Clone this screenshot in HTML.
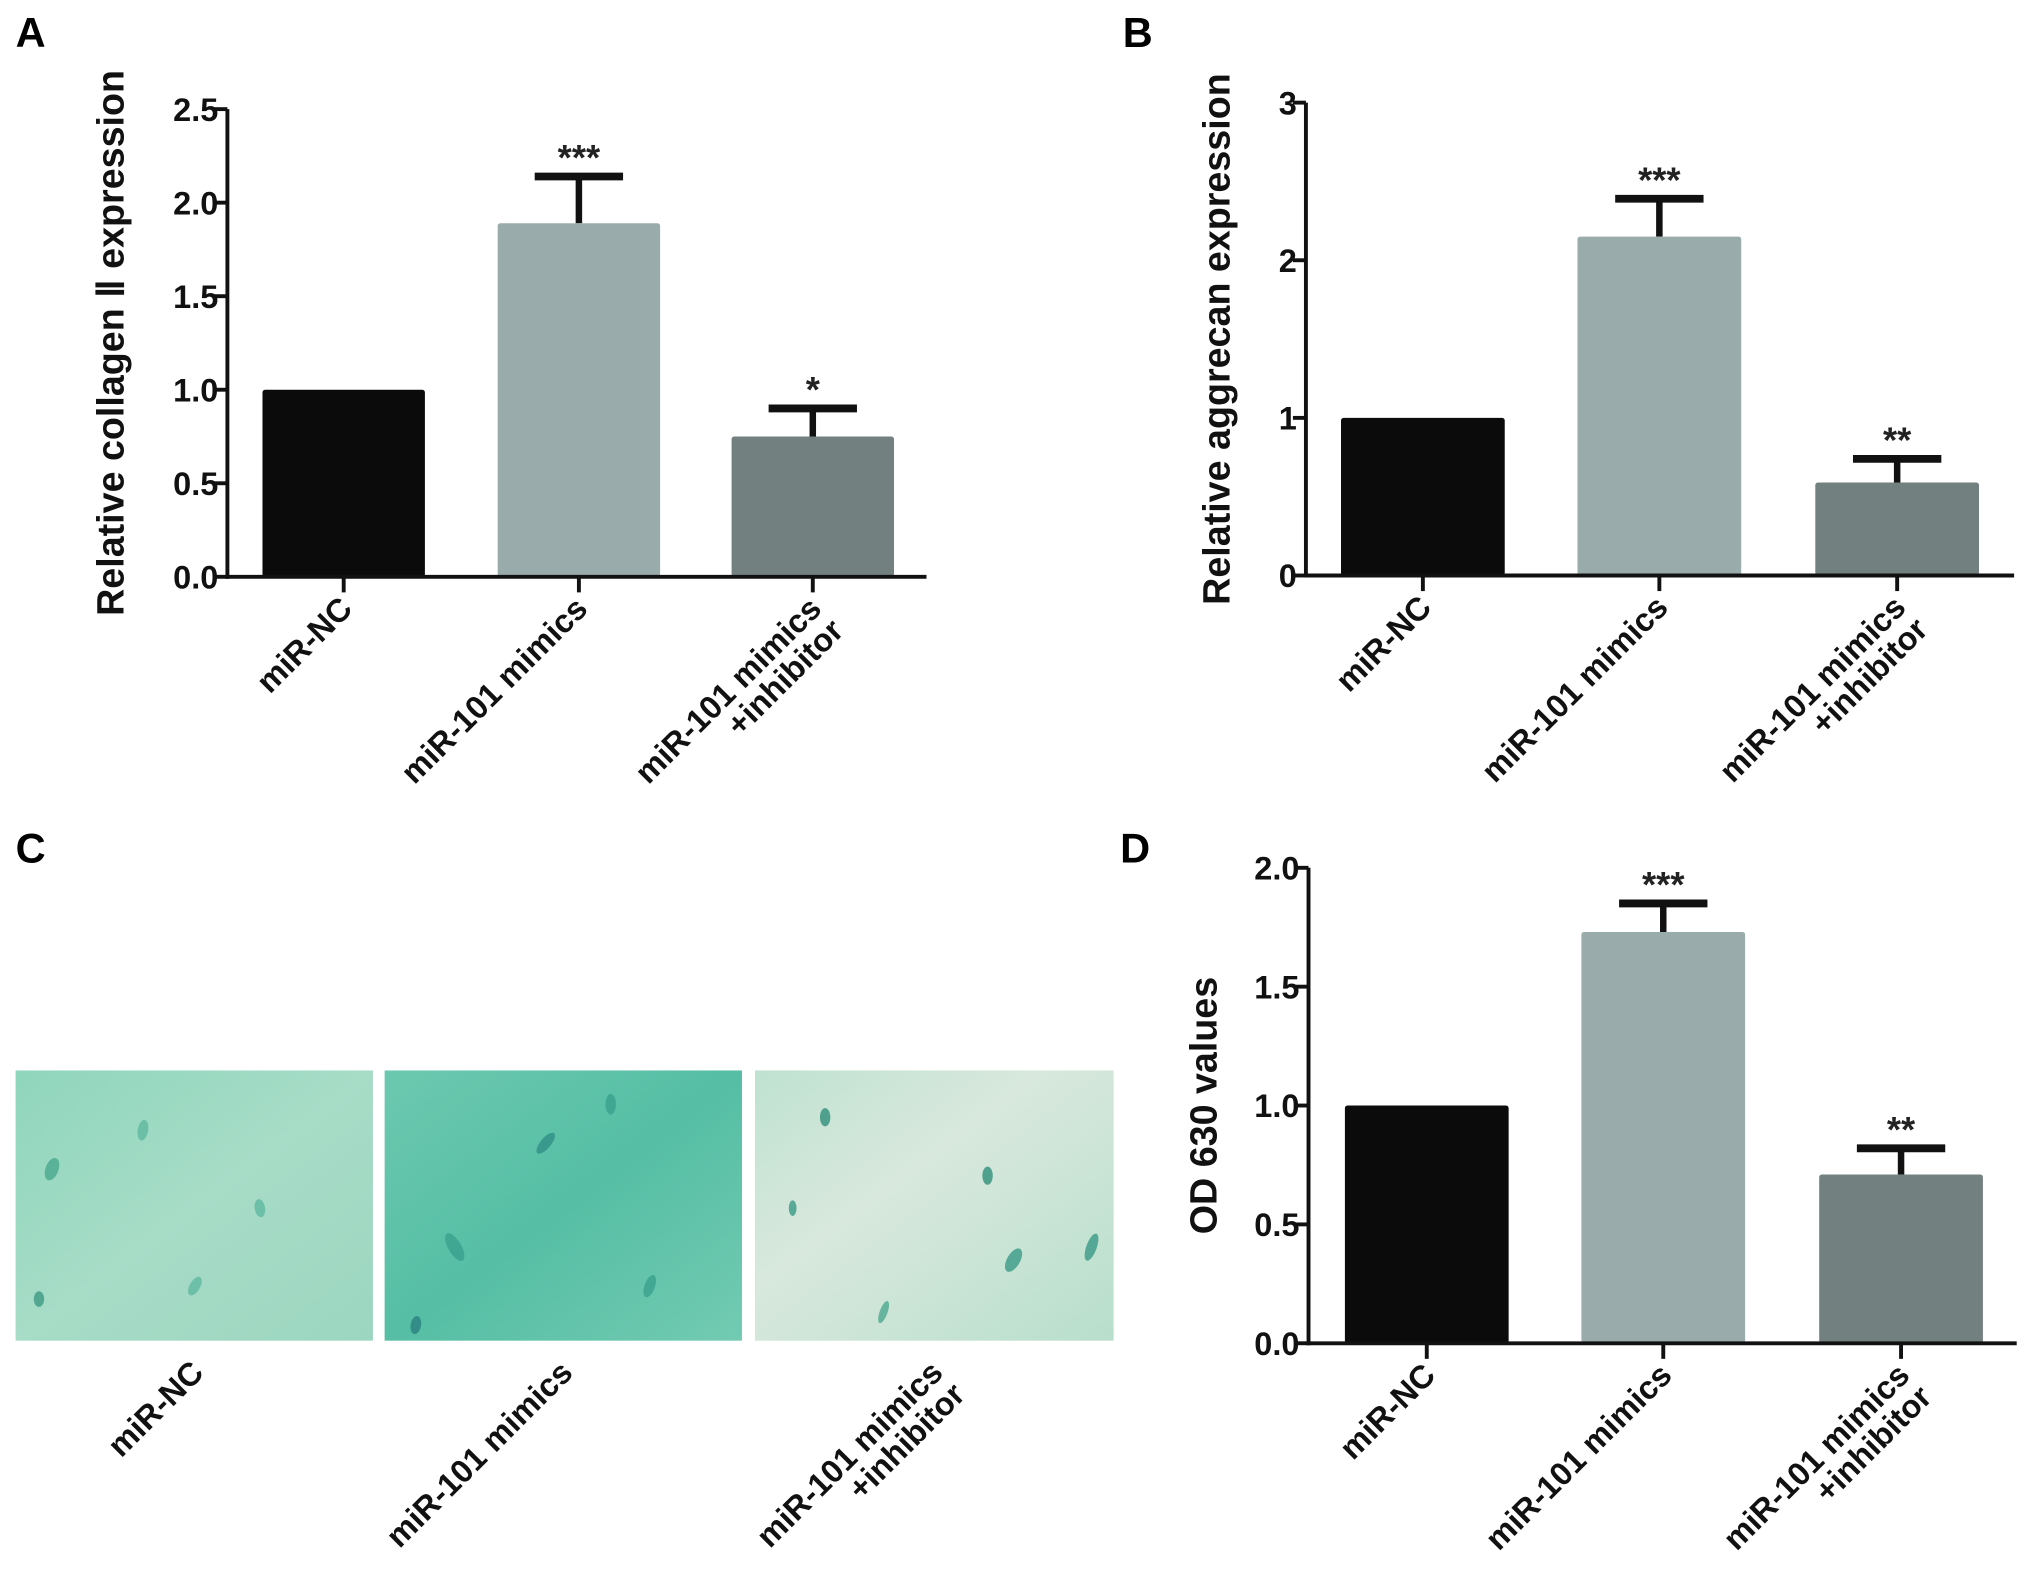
<!DOCTYPE html>
<html><head><meta charset="utf-8"><style>
html,body{margin:0;padding:0;background:#fff;}
svg{display:block;font-family:"Liberation Sans",Arial,sans-serif;font-weight:bold;}
</style></head><body>
<svg id="fig" width="2031" height="1581" viewBox="0 0 1563 1217" preserveAspectRatio="none" xmlns="http://www.w3.org/2000/svg">
<defs>
<linearGradient id="g1" x1="0" y1="0" x2="1" y2="1"><stop offset="0" stop-color="#8fd6bc"/><stop offset="0.5" stop-color="#a7dcc7"/><stop offset="1" stop-color="#9cd6c0"/></linearGradient>
<linearGradient id="g2" x1="0" y1="0" x2="1" y2="1"><stop offset="0" stop-color="#6cc9b0"/><stop offset="0.5" stop-color="#55bea4"/><stop offset="1" stop-color="#72cbb2"/></linearGradient>
<linearGradient id="g3" x1="0" y1="0" x2="1" y2="1"><stop offset="0" stop-color="#bfe2d0"/><stop offset="0.4" stop-color="#d8e8dc"/><stop offset="1" stop-color="#b8dfcc"/></linearGradient>
</defs>
<text x="12" y="36" font-size="32">A</text>
<text x="864" y="36" font-size="32">B</text>
<text x="12" y="664" font-size="32">C</text>
<text x="862" y="664" font-size="32">D</text>
<g id="micro">
<rect x="12" y="824" width="275" height="208" fill="url(#g1)"/>
<rect x="296" y="824" width="275" height="208" fill="url(#g2)"/>
<rect x="581" y="824" width="276" height="208" fill="url(#g3)"/>
</g>
<g id="charts"></g>
</svg>
<script>
const categories=["miR-NC","miR-101 mimics","miR-101 mimics|+inhibitor"];
const valuesA=[1.0,1.89,0.75];
const errA=[0,0.25,0.15];
const sigA=["","***","*"];
const ticksA=["0.0","0.5","1.0","1.5","2.0","2.5"];
const valuesB=[1.0,2.15,0.59];
const errB=[0,0.24,0.15];
const sigB=["","***","**"];
const ticksB=["0","1","2","3"];
const valuesD=[1.0,1.73,0.71];
const errD=[0,0.12,0.11];
const sigD=["","***","**"];
const ticksD=["0.0","0.5","1.0","1.5","2.0"];
const colors=["#0b0b0b","#9aabab","#72807f"];
const NS="http://www.w3.org/2000/svg";
const root=document.getElementById('charts');
function mk(t,a,p){const e=document.createElementNS(NS,t);for(const k in a)e.setAttribute(k,a[k]);(p||root).appendChild(e);return e;}
function chart(cfg){
 const g=mk('g',{});
 
 
 const ymax=parseFloat(cfg.ticks[cfg.ticks.length-1]);
 const y=v=>cfg.y0-(v/ymax)*(cfg.y0-cfg.yTop);
 cfg.vals.forEach((v,i)=>{
  const x0=cfg.barX[i];
  const cx=x0+cfg.bw/2;
  if(cfg.err[i]>0){
   const top=y(v+cfg.err[i]);
   const l=mk('line',{x1:cx,x2:cx,y1:y(v),y2:top,stroke:'#111','stroke-width':5},g);
   
   
   const c=mk('line',{x1:cx-34,x2:cx+34,y1:top,y2:top,stroke:'#111','stroke-width':6},g);
   
   
   const s=mk('text',{x:cx,y:top-5,'text-anchor':'middle','font-size':28,fill:'#222'},g);
   s.textContent=cfg.sig[i];
   
   
  }
  const r=mk('rect',{x:x0,y:y(v),width:cfg.bw,height:cfg.y0-y(v),fill:colors[i],rx:2},g);
  
  
  const t=mk('line',{x1:cx,x2:cx,y1:cfg.y0,y2:cfg.y0+12,stroke:'#111','stroke-width':3},g);
  
  
  const lines=categories[i].split('|');
  const tg=mk('g',{transform:`translate(${cx+8},${cfg.y0+26}) rotate(-45)`},g);
  
  
  lines.forEach((s,j)=>{const tx=mk('text',{x:0,y:j*24,'text-anchor':'end','font-size':25,fill:'#111'},tg);tx.textContent=s;});
 });
 const ya=mk('line',{x1:cfg.x0,x2:cfg.x0,y1:cfg.yTop,y2:cfg.y0+1.5,stroke:'#111','stroke-width':3},g);
 
 
 const xa=mk('line',{x1:cfg.x0-1.5,x2:cfg.xEnd,y1:cfg.y0,y2:cfg.y0,stroke:'#111','stroke-width':3},g);
 
 
 cfg.ticks.forEach((tk,i)=>{
  const yy=y(parseFloat(tk));
  const l=mk('line',{x1:cfg.x0-10,x2:cfg.x0,y1:yy,y2:yy,stroke:'#111','stroke-width':3},g);
  
  
  const t=mk('text',{x:cfg.x0-7,y:yy+9,'text-anchor':'end','font-size':25,fill:'#111'},g);
  t.textContent=tk;
  
  
 });
 const tt=mk('text',{transform:`translate(${cfg.titleX},${(cfg.y0+cfg.yTop)/2}) rotate(-90)`,'text-anchor':'middle','font-size':29,fill:'#111'},g);
 tt.textContent=cfg.title;
 
 
}
chart({name:'chart-a-collagen',x0:175,xEnd:713,y0:444,yTop:84,bw:125,barX:[202,383,563],vals:valuesA,err:errA,sig:sigA,ticks:ticksA,title:'Relative collagen Ⅱ expression',titleX:95});
chart({name:'chart-b-aggrecan',x0:1005,xEnd:1550,y0:443,yTop:79,bw:126,barX:[1032,1214,1397],vals:valuesB,err:errB,sig:sigB,ticks:ticksB,title:'Relative aggrecan expression',titleX:946});
chart({name:'chart-d-od630',x0:1007,xEnd:1552,y0:1034,yTop:668,bw:126,barX:[1035,1217,1400],vals:valuesD,err:errD,sig:sigD,ticks:ticksD,title:'OD 630 values',titleX:936});
const micro=document.getElementById('micro');
[150,434,719].forEach((cx,i)=>{
 const tg=mk('g',{transform:`translate(${cx+8},${1058}) rotate(-45)`},micro);
 
 
 categories[i].split('|').forEach((s,j)=>{const tx=mk('text',{x:0,y:j*24,'text-anchor':'end','font-size':25,fill:'#111'},tg);tx.textContent=s;});
});
const cells=[[40,900,5,9,20,"#4aa88f"],[110,870,4,8,10,"#5fb8a0"],[200,930,4,7,-10,"#5fb8a0"],[150,990,4,8,30,"#5fb8a0"],[30,1000,4,6,0,"#3f9a82"],
[420,880,4,10,40,"#2f8f86"],[350,960,5,12,-30,"#3aa08f"],[500,990,4,9,20,"#3aa08f"],[320,1020,4,7,10,"#2b7f80"],[470,850,4,8,0,"#3aa08f"],
[635,860,4,7,0,"#2f8f7a"],[760,905,4,7,0,"#2f8f7a"],[780,970,5,10,30,"#3a9a86"],[680,1010,3,9,20,"#4aa890"],[840,960,4,11,20,"#3a9a86"],[610,930,3,6,0,"#3a9a86"]];
cells.forEach((c,i)=>{const e=mk('ellipse',{cx:c[0],cy:c[1],rx:c[2],ry:c[3],fill:c[5],opacity:0.8,transform:`rotate(${c[4]} ${c[0]} ${c[1]})`},micro);
 
 });
</script>
</body></html>
